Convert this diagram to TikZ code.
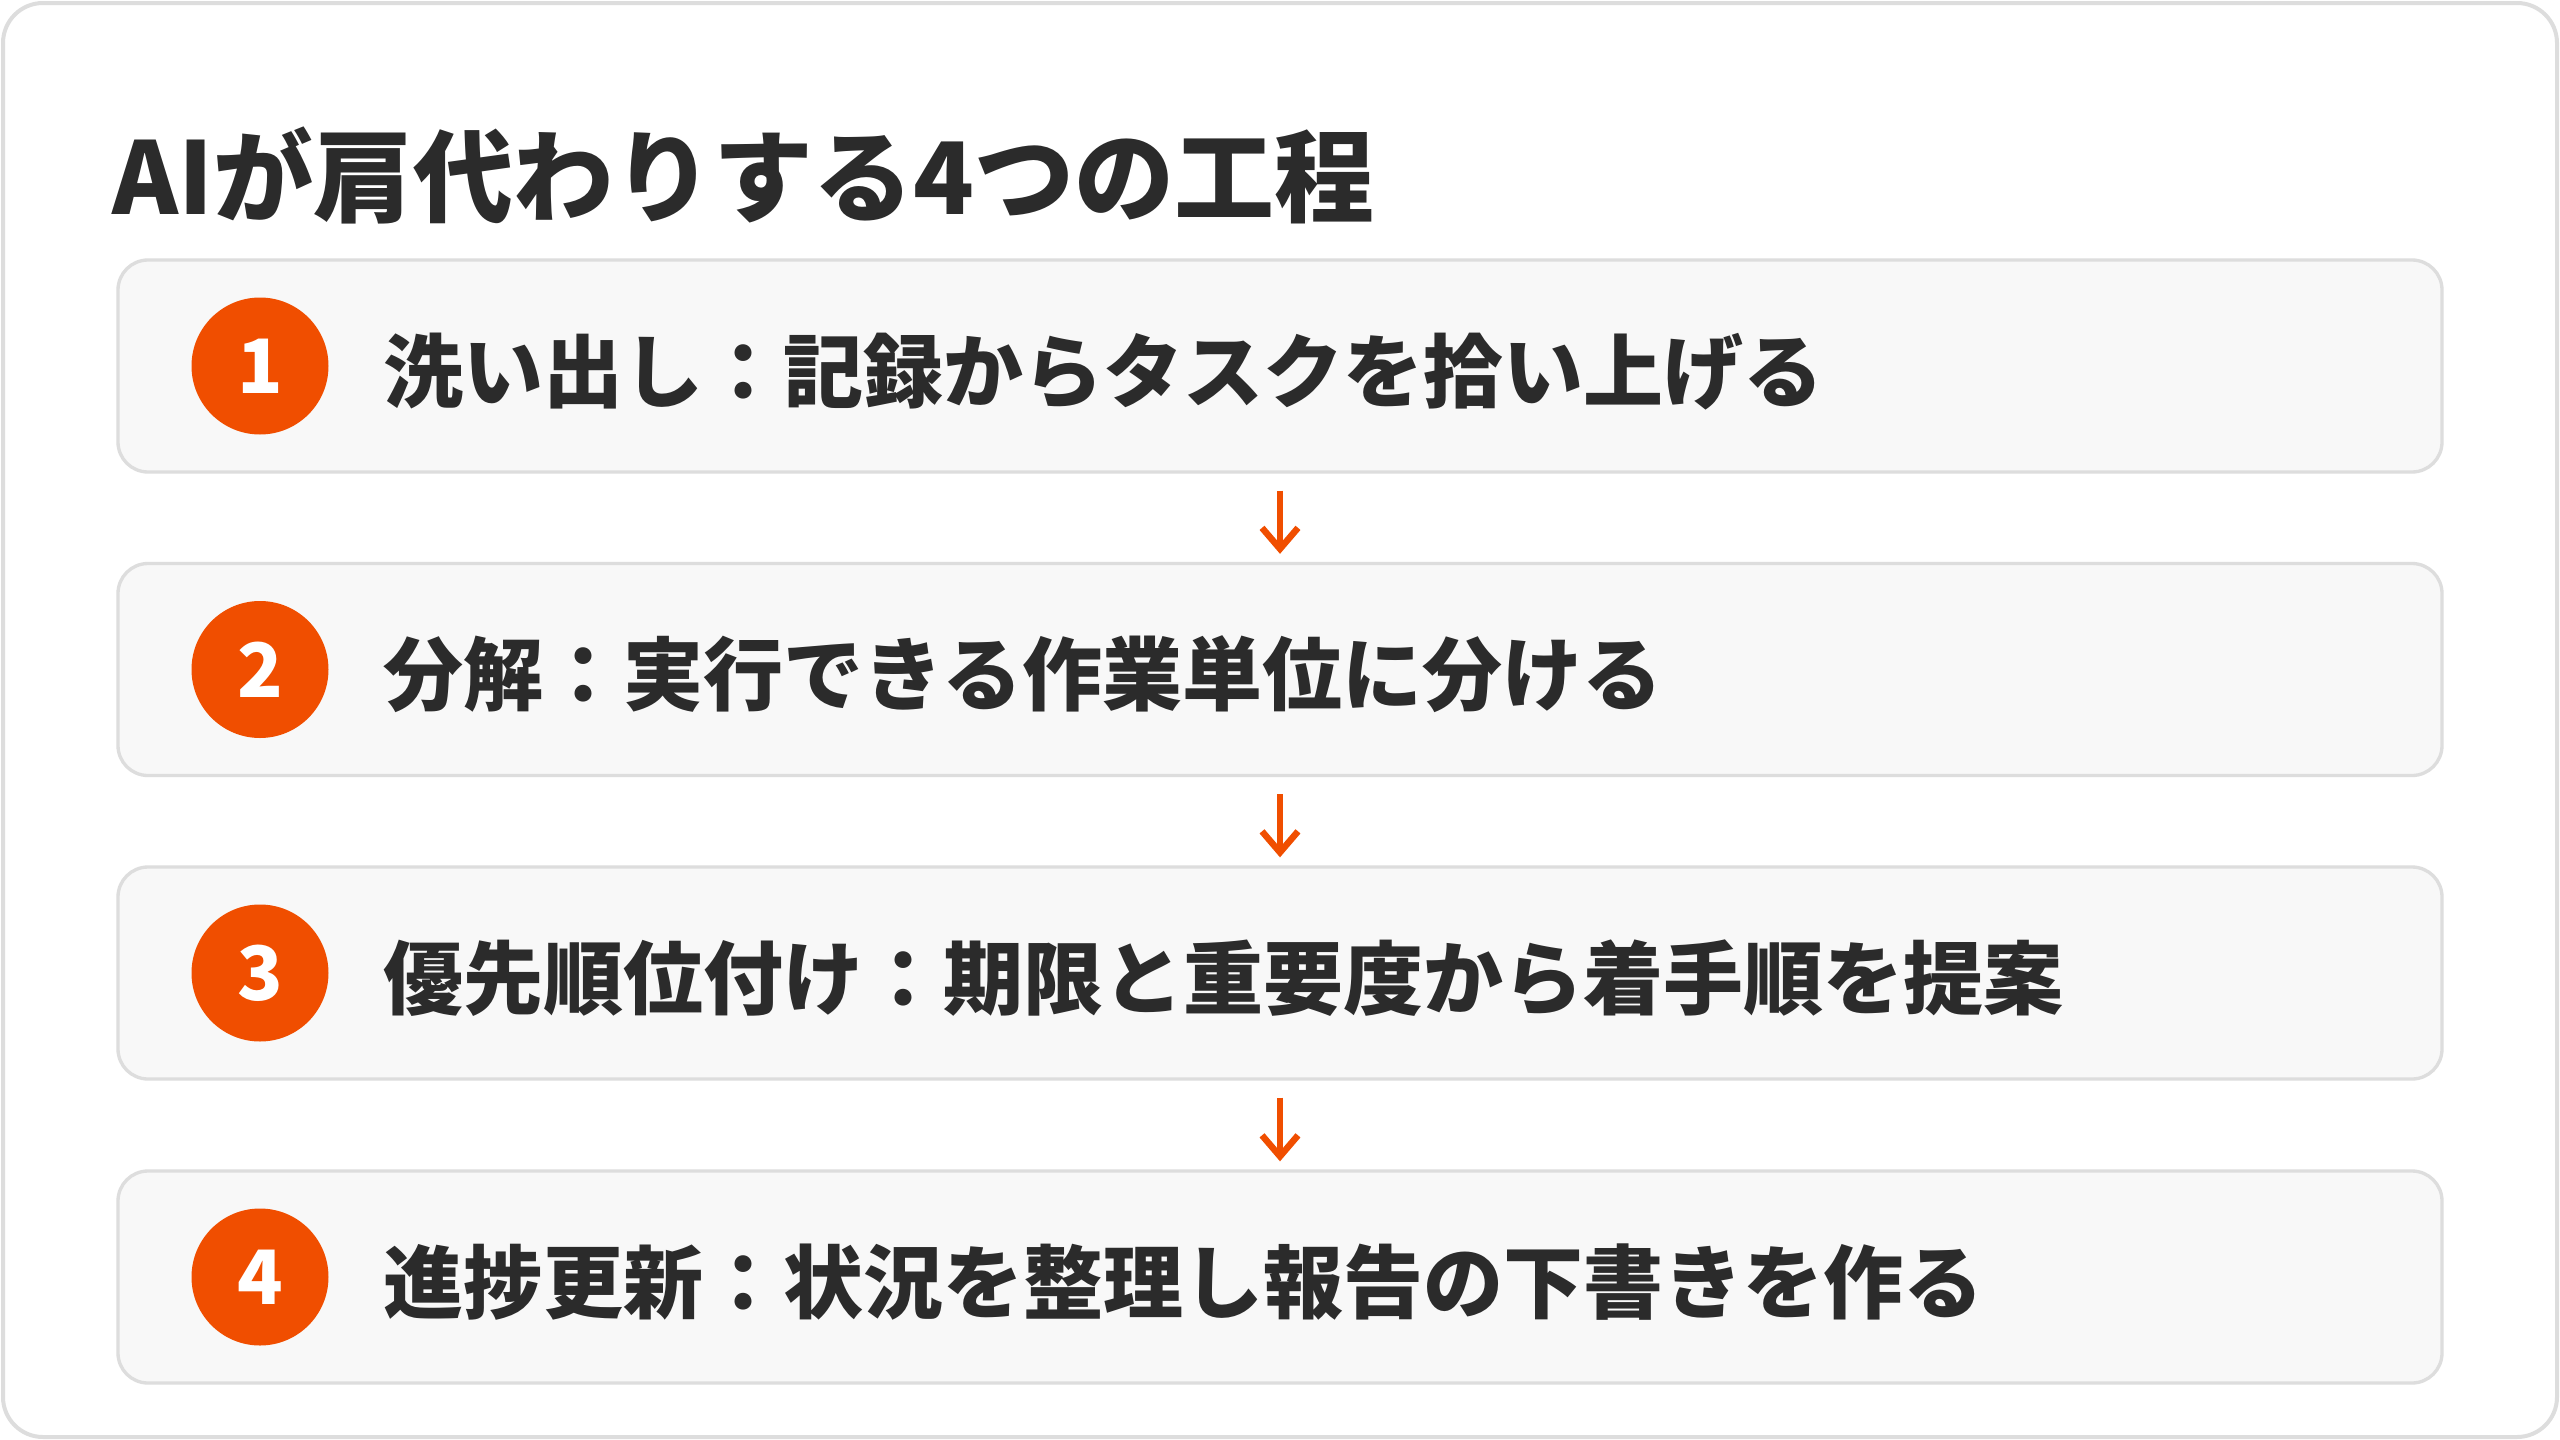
\documentclass[tikz,border=0pt]{standalone}
\usepackage{fontspec}
\setmainfont{Noto Sans CJK JP}
\usetikzlibrary{arrows.meta}
\definecolor{framegray}{HTML}{DDDDDD}
\definecolor{boxfill}{HTML}{F8F8F8}
\definecolor{accent}{HTML}{F04E00}
\definecolor{ink}{HTML}{2B2B2B}
\newcommand{\badgenum}[1]{\raisebox{-1.3pt}{#1}}
\tikzset{
  stepbox/.style={draw=framegray, fill=boxfill, line width=1pt, rounded corners=9pt,
    minimum width=2324*0.3pt, minimum height=212*0.3pt, inner sep=0pt},
  badge/.style={circle, fill=accent, text=white, inner sep=0pt, minimum size=137*0.3pt,
    font=\fontsize{22.5pt}{22.5pt}\selectfont\bfseries},
  steptext/.style={anchor=base west, inner sep=0pt, text=ink,
    font=\fontsize{24pt}{24pt}\selectfont\bfseries},
  flow/.style={draw=accent, line width=6.5*0.3pt,
    -{Straight Barb[length=21*0.3pt, width=36*0.3pt]},
    shorten <=17*0.3pt, shorten >=8*0.3pt}
}
\begin{document}
\begin{tikzpicture}[x=0.3pt, y=-0.3pt]
\useasboundingbox (0,0) rectangle (2560,1440);
\draw[framegray, line width=1.2pt, fill=white, rounded corners=12pt] (3,3) rectangle (2557,1437);
\node[anchor=base west, inner sep=0pt, text=ink, font=\fontsize{30pt}{30pt}\selectfont\bfseries] (title) at (112,214) {AIが肩代わりする4つの工程};

\node[stepbox] (b1) at (1280,366) {};
\node[stepbox] (b2) at (1280,669.5) {};
\node[stepbox] (b3) at (1280,973) {};
\node[stepbox] (b4) at (1280,1277) {};

\node[badge] (n1) at (260,366) {\badgenum{1}};
\node[badge] (n2) at (260,669.5) {\badgenum{2}};
\node[badge] (n3) at (260,973) {\badgenum{3}};
\node[badge] (n4) at (260,1277) {\badgenum{4}};

\node[steptext] (t1) at (383,401) {洗い出し：記録からタスクを拾い上げる};
\node[steptext] (t2) at (383,704.5) {分解：実行できる作業単位に分ける};
\node[steptext] (t3) at (383,1008) {優先順位付け：期限と重要度から着手順を提案};
\node[steptext] (t4) at (383,1312) {進捗更新：状況を整理し報告の下書きを作る};

\draw[flow] (b1.south) -- (b2.north);
\draw[flow] (b2.south) -- (b3.north);
\draw[flow] (b3.south) -- (b4.north);
\end{tikzpicture}
\end{document}
